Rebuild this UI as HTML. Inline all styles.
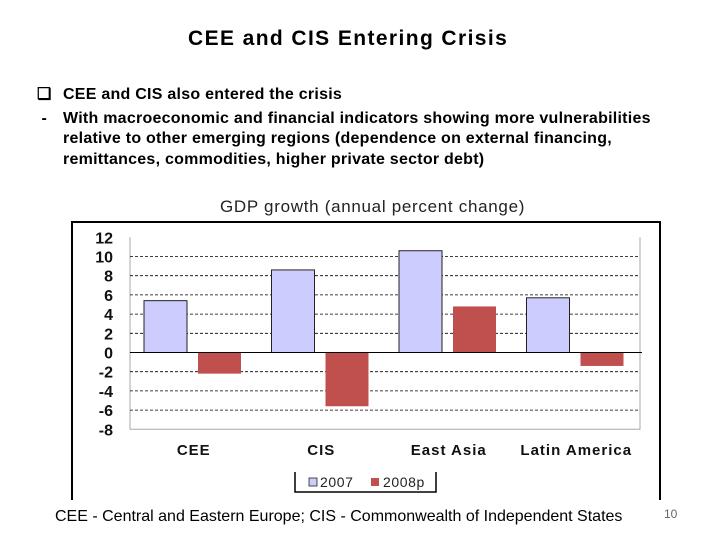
<!DOCTYPE html>
<html><head><meta charset="utf-8"><style>
body{margin:0;width:720px;height:540px;background:#fff;font-family:"Liberation Sans",sans-serif;position:relative;overflow:hidden}
.t{position:absolute;white-space:nowrap}
</style></head><body>
<div class="t" style="left:188px;top:27px;font-size:21px;font-weight:bold;letter-spacing:1.4px">CEE and CIS Entering Crisis</div>
<div class="t" style="left:37px;top:85px;font-size:16px;line-height:20.5px;letter-spacing:0.25px;font-weight:bold">
<div style="margin-bottom:3px"><span style="display:inline-block;width:26px;letter-spacing:0">&#10065;</span>CEE and CIS also entered the crisis</div>
<span style="display:inline-block;width:26px;letter-spacing:0">&nbsp;-</span>With macroeconomic and financial indicators showing more vulnerabilities<br>
<span style="display:inline-block;width:26px"></span>relative to other emerging regions (dependence on external financing,<br>
<span style="display:inline-block;width:26px"></span>remittances, commodities, higher private sector debt)</div>
<div class="t" style="left:220px;top:197px;font-size:17px;letter-spacing:0.7px;color:#222">GDP growth (annual percent change)</div>
<svg id="c" width="720" height="540" style="position:absolute;left:0;top:0"></svg>
<div class="t" style="left:55px;top:508px;font-size:16px">CEE - Central and Eastern Europe; CIS - Commonwealth of Independent States</div>
<div class="t" style="left:664px;top:507px;font-size:12px;color:#666">10</div>
<script>
const categories=["CEE","CIS","East Asia","Latin America"];
const s2007=[5.4,8.6,10.6,5.7];
const s2008=[-2.2,-5.6,4.8,-1.4];
const ticks=[12,10,8,6,4,2,0,-2,-4,-6,-8];
const NS="http://www.w3.org/2000/svg",svg=document.getElementById('c');
const x0=130,x1=640,gw=(x1-x0)/categories.length;
const y=v=>352.5-v*9.6;
function mk(t,a){const e=document.createElementNS(NS,t);for(const k in a)e.setAttribute(k,a[k]);svg.appendChild(e);return e;}
let f=mk('path',{d:'M72 500V222H660V500',fill:'none',stroke:'#000','stroke-width':2});


let pa=mk('path',{d:`M${x0} ${y(12)}V${y(-8)}H${x1}V${y(12)}`,fill:'none',stroke:'#aaa','stroke-width':1});


ticks.forEach(v=>{
 if(v!==0&&v!==-8&&v!==12){let g=mk('line',{x1:x0,x2:x1,y1:y(v),y2:y(v),stroke:'#000','stroke-dasharray':'3,2','stroke-width':0.8});
 
 }
 let t=mk('text',{x:113,y:y(v)+6,'text-anchor':'end','font-size':16,'font-weight':'bold','font-family':'Liberation Sans',fill:'#111'});
 t.textContent=v;
 
 
});
categories.forEach((c,i)=>{
 const gx=x0+i*gw;
 const a=s2007[i],b=s2008[i];
 let r1=mk('rect',{x:gx+14,y:Math.min(y(a),y(0)),width:43,height:Math.abs(y(a)-y(0)),fill:'#ccccff',stroke:'#222','stroke-width':1});
 
 
 let r2=mk('rect',{x:gx+68,y:Math.min(y(b),y(0)),width:43,height:Math.abs(y(b)-y(0)),fill:'#c0504d'});
 
 
 let t=mk('text',{x:gx+gw/2,y:455,'text-anchor':'middle','font-size':15,'font-weight':'bold','letter-spacing':1,'font-family':'Liberation Sans',fill:'#111'});
 t.textContent=c;
 
 
});
let z=mk('line',{x1:x0,x2:x1+2,y1:y(0),y2:y(0),stroke:'#000','stroke-width':1});


let lg=mk('path',{d:'M295 472V492H436V472',fill:'#fff',stroke:'#000','stroke-width':1.5});


let l1=mk('rect',{x:309,y:478,width:8,height:8,fill:'#ccccff',stroke:'#222','stroke-width':0.8});


let lt1=mk('text',{x:320,y:487,'font-size':14,'letter-spacing':0.6,'font-family':'Liberation Sans',fill:'#222'});lt1.textContent='2007';


let l2=mk('rect',{x:371,y:478,width:8,height:8,fill:'#c0504d'});


let lt2=mk('text',{x:383,y:487,'font-size':14,'letter-spacing':0.6,'font-family':'Liberation Sans',fill:'#222'});lt2.textContent='2008p';


</script>
</body></html>
